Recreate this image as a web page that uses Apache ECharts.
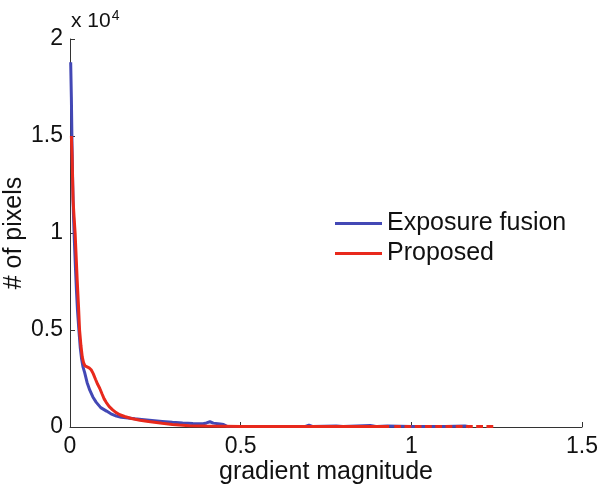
<!DOCTYPE html>
<html><head><meta charset="utf-8">
<script src="https://cdn.jsdelivr.net/npm/echarts@6/dist/echarts.min.js"></script>
<style>html,body{margin:0;padding:0;background:#fff}#c{width:600px;height:491px}</style>
</head><body><div id="c"></div>
<script>
const seriesNames = ['Exposure fusion', 'Proposed'];
const xTicks = [0, 0.5, 1, 1.5];
const yTicks = [0, 5000, 10000, 15000, 20000];
const blueData = [[0.002,18800],[0.004,17000],[0.006,14500],[0.008,12500],[0.010,11000],[0.013,9500],[0.016,8200],[0.019,7000],[0.022,6000],[0.026,5000],[0.030,4100],[0.034,3500],[0.038,3100],[0.043,2800],[0.050,2300],[0.058,1900],[0.067,1550],[0.077,1270],[0.090,1000],[0.107,820],[0.120,680],[0.136,560],[0.150,500],[0.170,460],[0.190,420],[0.210,390],[0.240,340],[0.270,290],[0.300,240],[0.330,200],[0.360,180],[0.390,170],[0.400,210],[0.410,270],[0.420,200],[0.440,160],[0.450,130],[0.460,40],[0.500,30],[0.550,20],[0.600,20],[0.650,20],[0.690,30],[0.700,100],[0.710,30],[0.780,50],[0.800,20],[0.880,80],[0.900,20],[0.930,50],[1.000,20],[1.100,20],[1.157,50],[1.170,10]];
const redData = [[0.004,15000],[0.006,14000],[0.009,11700],[0.012,10800],[0.015,10000],[0.018,8800],[0.021,7600],[0.025,6200],[0.028,5000],[0.032,4200],[0.036,3600],[0.040,3300],[0.044,3150],[0.050,3100],[0.056,3050],[0.062,2950],[0.068,2750],[0.075,2450],[0.081,2200],[0.087,2000],[0.094,1700],[0.100,1450],[0.106,1270],[0.115,1050],[0.125,880],[0.135,740],[0.146,630],[0.160,540],[0.180,440],[0.205,350],[0.230,280],[0.270,190],[0.300,130],[0.320,100],[0.350,70],[0.400,50],[0.500,30],[0.600,30],[0.700,30],[0.800,30],[0.900,30],[0.935,30],[0.945,'-'],[0.950,30],[0.970,30],[0.975,'-'],[0.980,30],[1.000,30],[1.005,'-'],[1.010,30],[1.030,30],[1.035,'-'],[1.040,30],[1.060,30],[1.065,'-'],[1.070,30],[1.090,30],[1.095,'-'],[1.100,30],[1.120,30],[1.125,'-'],[1.130,30],[1.150,30],[1.155,'-'],[1.160,30],[1.180,30],[1.185,'-'],[1.190,30],[1.210,30],[1.215,'-'],[1.220,30],[1.240,30]];
const colors = ['#4348b5', '#e8291c'];
const chart = echarts.init(document.getElementById('c'));
const font = 'Arial, "Liberation Sans", sans-serif';
chart.setOption({
  animation: false,
  grid: {left: 70, right: 18, top: 39, bottom: 64, containLabel: false, outerBoundsMode: 'none'},
  legend: {
    data: seriesNames, orient: 'vertical', left: 330, top: 206, itemGap: 5,
    itemWidth: 47, itemHeight: 3, icon: 'rect',
    textStyle: {fontFamily: font, fontSize: 25, color: '#111'}
  },
  graphic: [{type: 'text', left: 71, top: 9, style: {
    rich: {a: {fontFamily: font, fontSize: 21, fill: '#111'}, b: {fontFamily: font, fontSize: 14, fill: '#111', verticalAlign: 'top', padding: [0,0,10,1]}},
    text: '{a|x 10}{b|4}'}}],
  xAxis: {
    type: 'value', min: 0, max: 1.5, interval: 0.5,
    name: 'gradient magnitude', nameLocation: 'middle', nameGap: 33, nameMoveOverlap: false,
    nameTextStyle: {fontFamily: font, fontSize: 25, color: '#111'},
    axisLine: {lineStyle: {color: '#333', width: 1}},
    axisTick: {inside: true, length: 5, lineStyle: {color: '#333'}},
    axisLabel: {fontFamily: font, fontSize: 23, color: '#111', margin: 8,
      formatter: v => xTicks.indexOf(v) >= 0 ? String(v) : ''},
    splitLine: {show: false}
  },
  yAxis: {
    type: 'value', min: 0, max: 20000, interval: 5000,
    name: '# of pixels', nameLocation: 'middle', nameGap: 43, nameRotate: 90, nameMoveOverlap: false,
    nameTextStyle: {fontFamily: font, fontSize: 25, color: '#111'},
    axisLine: {show: true, lineStyle: {color: '#333', width: 1}},
    axisTick: {show: true, inside: true, length: 5, lineStyle: {color: '#333'}},
    axisLabel: {fontFamily: font, fontSize: 23, color: '#111', margin: 7,
      formatter: v => yTicks.indexOf(v) >= 0 ? String(v / 10000) : ''},
    splitLine: {show: false}
  },
  series: [
    {name: seriesNames[0], type: 'line', data: blueData, showSymbol: false, symbol: 'none',
     lineStyle: {color: colors[0], width: 3}, itemStyle: {color: colors[0]}, connectNulls: false, z: 2},
    {name: seriesNames[1], type: 'line', data: redData, showSymbol: false, symbol: 'none',
     lineStyle: {color: colors[1], width: 3}, itemStyle: {color: colors[1]}, connectNulls: false, z: 3}
  ]
});
</script></body></html>
